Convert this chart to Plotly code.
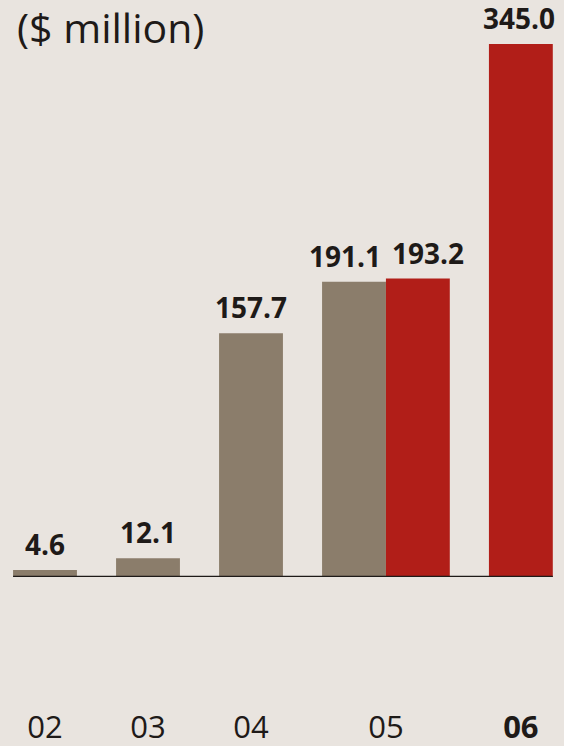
import plotly.graph_objects as go

# ---- data ----
years = ["02", "03", "04", "05", "06"]
brown_years = ["02", "03", "04", "05"]
brown_values = [4.6, 12.1, 157.7, 191.1]
red_years = ["05", "06"]
red_values = [193.2, 345.0]
unit_label = "($ million)"

# ---- style ----
BG = "#E9E4DF"
BROWN = "#8B7D6B"
RED = "#B11E18"
INK = "#1E1A18"
BAR_W = 0.62
FONT = "Open Sans"

# positions: brown bars on slots 0..3, red bars follow the 05 brown bar
brown_x = [i for i in range(len(brown_years))]
red_x = [brown_x[-1] + BAR_W + i for i in range(len(red_years))]
tick_x = [0, 1, 2, brown_x[-1] + BAR_W / 2, red_x[-1]]
tick_text = [y if y != "06" else "<b>06</b>" for y in years]

fig = go.Figure()
fig.add_trace(go.Bar(x=brown_x, y=brown_values, width=BAR_W,
                     marker=dict(color=BROWN, line=dict(width=0)),
                     hoverinfo="skip"))
fig.add_trace(go.Bar(x=red_x, y=red_values, width=BAR_W,
                     marker=dict(color=RED, line=dict(width=0)),
                     hoverinfo="skip"))

# value labels
label_x = brown_x + red_x
label_v = brown_values + red_values
label_dx = [0, 0, 0, -9, 10, -2]
for x, v, dx in zip(label_x, label_v, label_dx):
    fig.add_annotation(x=x, y=v, text=f"<b>{v:.1f}</b>", showarrow=False,
                       xanchor="center", yanchor="bottom", xshift=dx, yshift=5,
                       font=dict(family=FONT, size=28, color=INK))

# baseline
fig.add_shape(type="line", x0=label_x[0] - BAR_W / 2, x1=label_x[-1] + BAR_W / 2,
              y0=0, y1=0, line=dict(color=INK, width=2.5), layer="above")

# title
fig.add_annotation(xref="paper", yref="paper", x=0, y=1, xanchor="left", yanchor="top",
                   xshift=15, yshift=3, text=unit_label, showarrow=False,
                   font=dict(family=FONT, size=41, color=INK))

px_per_unit = 533 / 345.0
fig.update_layout(
    width=564, height=746,
    margin=dict(l=0, r=0, t=0, b=169),
    paper_bgcolor=BG, plot_bgcolor=BG,
    showlegend=False, barmode="overlay",
    xaxis=dict(range=[-45 / 103, 519 / 103], tickvals=tick_x, ticktext=tick_text,
               showgrid=False, zeroline=False, showline=False, ticks="",
               automargin=False, ticklabelstandoff=129,
               tickfont=dict(family=FONT, size=31, color=INK)),
    yaxis=dict(range=[0, 577 / px_per_unit], visible=False, showgrid=False,
               automargin=False),
)

fig.write_html("out.html", config={"displayModeBar": False},
               post_script="document.body.style.margin='0';"
                           "document.body.style.overflow='hidden';"
                           f"document.body.style.background='{BG}';")
